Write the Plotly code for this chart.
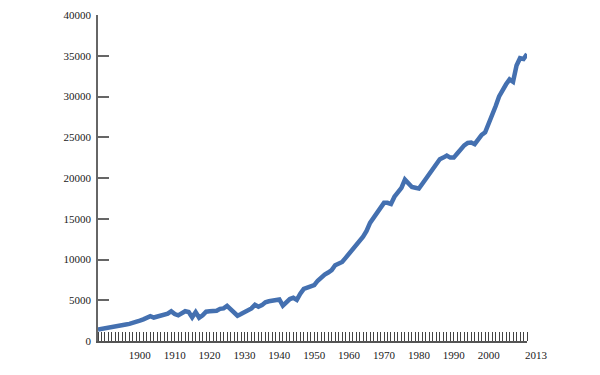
import plotly.graph_objects as go

years = list(range(1890, 2014))
values = [
    1420, 1480, 1550, 1600, 1680, 1760, 1860, 1940, 2030, 2100,   # 1890s
    2200, 2400, 2500, 2650, 2850, 3050, 2880, 3000, 3120, 3200,   # 1900s
    3350, 3650, 3300, 3150, 3400, 3650, 3560, 2900, 3550, 2850,   # 1910s
    3150, 3600, 3650, 3650, 3720, 3950, 4000, 4300, 3900, 3500,   # 1920s
    3100, 3300, 3500, 3700, 4000, 4450, 4200, 4400, 4750, 4880,   # 1930s
    4950, 5000, 5100, 4350, 4700, 5150, 5300, 5050, 5800, 6400,   # 1940s
    6550, 6700, 6850, 7400, 7850, 8150, 8400, 8700, 9300, 9450,   # 1950s
    9700, 10200, 10700, 11200, 11800, 12300, 12800, 13500, 14500, 15100,  # 1960s
    15700, 16300, 16950, 16950, 16800, 17700, 18200, 18800, 19800, 19400,  # 1970s
    18900, 18800, 18700, 19300, 19900, 20500, 21100, 21500, 22300, 22500,  # 1980s
    22750, 22500, 22500, 23000, 23600, 24000, 24300, 24350, 24150, 24700,  # 1990s
    25300, 25600, 26600, 27900, 28800, 30000, 30900, 31500, 32100, 31800,  # 2000s
    33800, 34700, 34600, 35200,                                            # 2010-2013
]

label_years = [1900, 1910, 1920, 1930, 1940, 1950, 1960, 1970, 1980, 1990, 2000]
last_label = 2013
label_shift = 2
y_ticks = [0, 5000, 10000, 15000, 20000, 25000, 30000, 35000, 40000]

x_range = [years[0], years[-1]]
font_family = "Liberation Serif"
tick_font = dict(family=font_family, size=11, color="#1a1a1a")

fig = go.Figure()
fig.add_trace(go.Scatter(
    x=years, y=values, mode="lines",
    line=dict(color="#4470B0", width=4.5),
    hoverinfo="skip", showlegend=False,
))

# the final year label sits just beyond the end of the axis
fig.add_annotation(
    x=(last_label + label_shift + 0.6 - x_range[0]) / (x_range[1] - x_range[0]),
    y=0, xref="paper", yref="paper",
    text=str(last_label), showarrow=False,
    xanchor="center", yanchor="top", yshift=-6,
    font=tick_font,
)

fig.update_layout(
    width=592, height=367,
    margin=dict(l=90, r=73, t=7, b=34),
    paper_bgcolor="white", plot_bgcolor="white",
    xaxis=dict(
        range=x_range,
        tickmode="array",
        tickvals=[y + label_shift for y in label_years],
        ticktext=[str(y) for y in label_years],
        ticks="",
        showgrid=False, zeroline=False,
        showline=True, linecolor="#555555", linewidth=1.5,
        tickfont=tick_font,
        ticklabelstandoff=3,
        automargin=False,
        minor=dict(tickmode="linear", tick0=1890, dtick=1, ticks="inside",
                   ticklen=9, tickwidth=1, tickcolor="#444444", showgrid=False),
    ),
    yaxis=dict(
        range=[0, 40000],
        tickmode="array",
        tickvals=y_ticks,
        ticktext=[str(v) for v in y_ticks],
        ticks="inside", ticklen=11, tickwidth=1.5, tickcolor="#666666",
        showgrid=False, zeroline=False,
        showline=True, linecolor="#666666", linewidth=1.5,
        tickfont=tick_font,
        ticklabelstandoff=3,
        ticklabeloverflow="allow",
        automargin=False,
    ),
)

fig.write_html("out.html")
